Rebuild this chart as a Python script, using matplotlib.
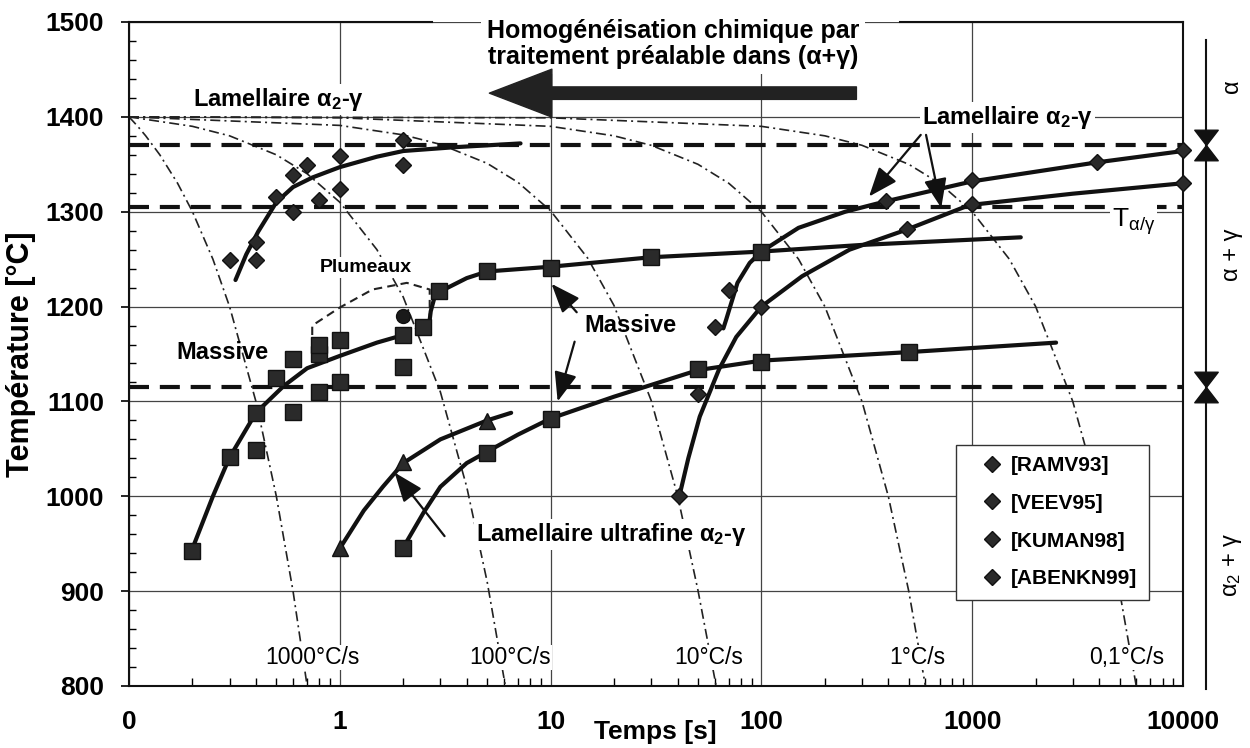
import matplotlib
matplotlib.use('Agg')
import matplotlib.pyplot as plt
import matplotlib.transforms as mtransforms
from matplotlib.path import Path
from matplotlib.ticker import MultipleLocator, LogLocator, NullFormatter

plt.rcParams['font.family'] = ['Liberation Sans', 'DejaVu Sans']
plt.rcParams['mathtext.fontset'] = 'custom'
plt.rcParams['mathtext.rm'] = 'Liberation Sans'
plt.rcParams['mathtext.bf'] = 'Liberation Sans:bold'
plt.rcParams['mathtext.it'] = 'Liberation Sans'

# --- donnees ---
x_ticks = [0.1, 1, 10, 100, 1000, 10000]
x_tick_labels = ['0', '1', '10', '100', '1000', '10000']
y_ticks = [800, 900, 1000, 1100, 1200, 1300, 1400, 1500]

# courbes de refroidissement (tirets-points)
rate_labels = ['1000°C/s', '100°C/s', '10°C/s', '1°C/s', '0,1°C/s']
rate_label_t = [0.74, 6.4, 56, 550, 5400]
cool_t = [
    [0.1, 0.11, 0.12, 0.14, 0.17, 0.2, 0.25, 0.3, 0.4, 0.5, 0.6, 0.7],
    [0.1, 0.2, 0.3, 0.5, 0.7, 1.0, 1.5, 2, 3, 4, 5, 6.1],
    [0.1, 1, 2, 3, 5, 7, 10, 15, 20, 30, 40, 50, 61],
    [0.1, 1, 10, 20, 30, 50, 70, 100, 150, 200, 300, 400, 500, 600],
    [0.1, 10, 100, 200, 300, 500, 700, 1000, 1500, 2000, 3000, 4000, 5000, 6000],
]
cool_T = [
    [1400, 1390, 1380, 1360, 1330, 1300, 1250, 1200, 1100, 1000, 900, 800],
    [1400, 1390, 1380, 1360, 1340, 1310, 1260, 1210, 1110, 1010, 910, 800],
    [1400, 1391, 1381, 1371, 1351, 1331, 1301, 1251, 1201, 1101, 1001, 901, 800],
    [1400, 1399, 1390, 1380, 1370, 1350, 1330, 1300, 1250, 1200, 1100, 1000, 900, 800],
    [1400, 1399, 1390, 1380, 1370, 1350, 1330, 1300, 1250, 1200, 1100, 1000, 900, 800],
]

# temperatures de transition (tirets epais)
T_levels = [1370, 1305, 1115]

# courbes en trait plein
lam_left_t = [0.32, 0.36, 0.41, 0.5, 0.6, 0.74, 1, 1.5, 2, 3.5, 7.2]
lam_left_T = [1228, 1255, 1279, 1310, 1326, 1336, 1347, 1358, 1364, 1368, 1372]
mas1_t = [0.2, 0.25, 0.3, 0.4, 0.54, 0.7, 1, 1.5, 2]
mas1_T = [945, 1000, 1041, 1088, 1116, 1135, 1148, 1162, 1170]
mas2_t = [2.65, 2.7, 2.8, 3.0, 4, 5, 10, 30, 100, 300, 1700]
mas2_T = [1180, 1195, 1208, 1216, 1230, 1237, 1242, 1252, 1258, 1265, 1273]
mas3_t = [2, 2.5, 3, 4, 5, 7, 10, 20, 50, 100, 500, 2500]
mas3_T = [946, 983, 1010, 1035, 1047, 1065, 1082, 1105, 1133, 1143, 1152, 1162]
uf_t = [1, 1.3, 1.6, 2, 3, 5, 6.5]
uf_T = [945, 985, 1010, 1035, 1060, 1080, 1088]
ru_t = [66, 68, 72, 77, 88, 100, 150, 250, 390, 1000, 3900, 10000]
ru_T = [1177, 1186, 1204, 1225, 1246, 1258, 1283, 1300, 1311, 1332, 1352, 1364]
rl_t = [40.8, 45, 51, 63, 76, 100, 156, 262, 487, 970, 3000, 10000]
rl_T = [1000, 1040, 1084, 1134, 1168, 1200, 1232, 1260, 1281, 1307, 1319, 1330]

# contour "Plumeaux"
plum_t = [0.74, 0.74, 1.0, 1.43, 2.08, 2.67, 2.67]
plum_T = [1170, 1180, 1199, 1218, 1225, 1218, 1188]

# points experimentaux
sources = ['[RAMV93]', '[VEEV95]', '[KUMAN98]', '[ABENKN99]']
dia_t = [
    [0.3, 0.4, 0.4, 0.5, 0.6, 0.6, 0.7, 0.8, 1, 1, 2, 2],
    [70, 390, 1000, 3900, 10000],
    [40.8, 100, 490, 1000, 10000],
    [50, 60],
]
dia_T = [
    [1249, 1249, 1268, 1315, 1300, 1339, 1349, 1312, 1324, 1359, 1349, 1376],
    [1217, 1311, 1333, 1352, 1365],
    [1000, 1200, 1282, 1308, 1330],
    [1108, 1178],
]
sq_t = [0.2, 0.3, 0.4, 0.4, 0.5, 0.6, 0.6, 0.8, 0.8, 0.8, 1, 1, 2, 2, 2.47, 2.97,
        5, 10, 30, 100, 2, 5, 10, 50, 100, 500]
sq_T = [942, 1041, 1049, 1088, 1125, 1089, 1145, 1110, 1150, 1160, 1165, 1120, 1170,
        1136, 1178, 1216, 1237, 1241, 1252, 1258, 946, 1046, 1081, 1134, 1142, 1152]
tri_t = [1, 2, 5]
tri_T = [945, 1036, 1079]
circ_t = [2]
circ_T = [1190]

# domaines de phases (echelle de droite)
phase_bounds = [1370, 1115]

# --- figure ---
fig = plt.figure(figsize=(12.5, 7.48), dpi=100)
ax = fig.add_axes([129 / 1250, 1 - 686 / 748, 1054 / 1250, 664 / 748])
ax.set_xscale('log')
ax.set_xlim(0.1, 10000)
ax.set_ylim(800, 1500)

ax.grid(True, which='major', color='#444444', lw=0.9, zorder=0)
ax.set_axisbelow(True)

dashdot = (0, (6, 2.5, 1.2, 2.5))
for t, T in zip(cool_t, cool_T):
    ax.plot(t, T, color='#222222', lw=1.2, ls=dashdot, zorder=1)

for T in T_levels:
    ax.axhline(T, color='#111111', lw=3, ls=(0, (4.8, 2.6)), zorder=2)

ax.plot(plum_t, plum_T, color='#222222', lw=1.5, ls=(0, (4, 2.5)), zorder=2)

for t, T in [(lam_left_t, lam_left_T), (mas1_t, mas1_T), (mas2_t, mas2_T),
             (mas3_t, mas3_T), (uf_t, uf_T), (ru_t, ru_T), (rl_t, rl_T)]:
    ax.plot(t, T, color='#111111', lw=3, solid_capstyle='round', zorder=3)

handles = []
for t, T in zip(dia_t, dia_T):
    h, = ax.plot(t, T, ls='none', marker='D', ms=8, mfc='#2a2a2a', mec='#111111',
                 zorder=4, clip_on=False)
    handles.append(h)
ax.plot(sq_t, sq_T, ls='none', marker='s', ms=11, mfc='#2a2a2a', mec='#111111', zorder=4)
ax.plot(tri_t, tri_T, ls='none', marker='^', ms=12, mfc='#2a2a2a', mec='#111111', zorder=4)
ax.plot(circ_t, circ_T, ls='none', marker='o', ms=10, mfc='#1a1a1a', mec='#111111', zorder=4)

# textes
white = dict(facecolor='white', edgecolor='none', pad=1.5)
ax.text(38, 1477, 'Homogénéisation chimique par\ntraitement préalable dans (α+γ)',
        ha='center', va='center', fontsize=18, fontweight='bold', linespacing=1.1,
        bbox=dict(facecolor='white', edgecolor='none', pad=4), zorder=6)
lam_txt = r'Lamellaire α$_{\mathbf{2}}$-γ'
ax.text(0.51, 1418, lam_txt, ha='center', va='center', fontsize=17, fontweight='bold',
        bbox=white, zorder=6)
ax.text(1475, 1399, lam_txt, ha='center', va='center', fontsize=17, fontweight='bold',
        bbox=white, zorder=6)
ax.text(0.279, 1152, 'Massive', ha='center', va='center', fontsize=17,
        fontweight='bold', zorder=6)
ax.text(23.9, 1180, 'Massive', ha='center', va='center', fontsize=17,
        fontweight='bold', zorder=6)
ax.text(19.5, 960, r'Lamellaire ultrafine α$_{\mathbf{2}}$-γ', ha='center', va='center',
        fontsize=17, fontweight='bold', bbox=white, zorder=6)
ax.text(1.33, 1241, 'Plumeaux', ha='center', va='center', fontsize=14,
        fontweight='bold', bbox=white, zorder=6)
ax.text(4600, 1290, r'T$_{\mathrm{α/γ}}$', ha='left', va='center', fontsize=19,
        bbox=white, zorder=6)
for lab, t in zip(rate_labels, rate_label_t):
    ax.text(t, 830, lab, ha='center', va='center', fontsize=16.5,
            bbox=dict(facecolor='white', edgecolor='none', pad=1), zorder=5)

# fleches
ax.annotate('', xy=(4.97, 1425), xytext=(291, 1425),
            arrowprops=dict(arrowstyle='simple,head_length=1.5,head_width=1.15,tail_width=0.3',
                            fc='#222222', ec='#222222', mutation_scale=30), zorder=6)
thin = dict(arrowstyle='-|>,head_length=0.9,head_width=0.35', lw=1.6, color='#111111',
            shrinkA=0, shrinkB=0, mutation_scale=20)
for start, end in [((570, 1381), (324, 1316)), ((604, 1381), (713, 1304)),
                   ((13.3, 1194), (10.1, 1224)), ((13.0, 1163), (10.8, 1100)),
                   ((3.14, 958), (1.82, 1025))]:
    ax.annotate('', xy=end, xytext=start, arrowprops=thin, zorder=6)

# echelle des phases a droite
trans = mtransforms.blended_transform_factory(ax.transAxes, ax.transData)
ax.plot([1.0218, 1.0218], [1481, 797], color='#111111', lw=1.5, transform=trans,
        clip_on=False)
bowtie = Path([(-1, 1.3), (1, 1.3), (-1, -1.3), (1, -1.3), (-1, 1.3)],
              [Path.MOVETO, Path.LINETO, Path.LINETO, Path.LINETO, Path.CLOSEPOLY])
ax.plot([1.0218] * len(phase_bounds), phase_bounds, ls='none', marker=bowtie, ms=22,
        color='#111111', transform=trans, clip_on=False)
for lab, T in [('α', 1432), ('α + γ', 1255), (r'α$_2$ + γ', 928)]:
    ax.text(1.0465, T, lab, rotation=90, ha='center', va='center', fontsize=17,
            transform=trans)

# legende
ax.legend(handles, sources, loc='upper left', bbox_to_anchor=(0.7846, 0.3636),
          frameon=True, fancybox=False, edgecolor='#333333', framealpha=1,
          prop=dict(weight='bold', size=15), labelspacing=0.9, handlelength=2.4,
          handletextpad=-0.3, borderpad=0.55, borderaxespad=0)
ax.get_legend().get_frame().set_linewidth(1.0)
ax.get_legend().set_zorder(7)

# axes
ax.spines['top'].set_visible(False)
for x0, x1 in [(0, 0.2875), (0.7315, 1)]:
    ax.plot([x0, x1], [1, 1], color='#111111', lw=1.5, transform=ax.transAxes,
            clip_on=False)
for s in ['left', 'right', 'bottom']:
    ax.spines[s].set_linewidth(1.5)
    ax.spines[s].set_color('#111111')

ax.set_xticks(x_ticks)
ax.set_xticklabels(x_tick_labels)
ax.xaxis.set_minor_locator(LogLocator(base=10, subs=[2, 3, 4, 5, 6, 7, 8, 9]))
ax.xaxis.set_minor_formatter(NullFormatter())
ax.set_yticks(y_ticks)
ax.yaxis.set_minor_locator(MultipleLocator(20))
ax.tick_params(axis='x', which='major', length=0, pad=17, labelsize=19)
ax.tick_params(axis='x', which='minor', direction='in', length=6, width=1)
ax.tick_params(axis='y', which='major', direction='out', length=6, width=1.2, pad=12,
               labelsize=19)
ax.tick_params(axis='y', which='minor', direction='in', length=5, width=1)
for lab in ax.get_xticklabels() + ax.get_yticklabels():
    lab.set_fontweight('bold')

ax.set_ylabel('Température [°C]', fontsize=22, fontweight='bold')
ax.yaxis.set_label_coords(-0.088, 0.5)
fig.text(655 / 1250, 1 - 732 / 748, 'Temps [s]', ha='center', va='center',
         fontsize=19, fontweight='bold')

fig.savefig('out.png', dpi=100)
